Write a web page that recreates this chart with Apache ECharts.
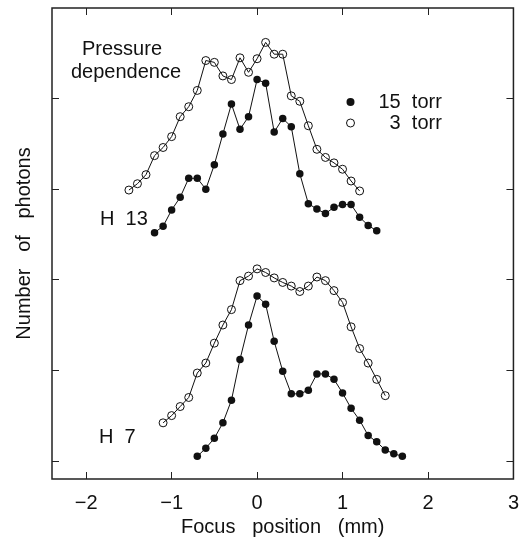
<!DOCTYPE html>
<html>
<head>
<meta charset="utf-8">
<script src="https://cdn.jsdelivr.net/npm/echarts@6/dist/echarts.min.js"></script>
<style>
  html, body { margin: 0; padding: 0; background: #fff; }
  #main { width: 522px; height: 546px; }
</style>
</head>
<body>
<div id="main"></div>
<script>
// focus position (mm)
var h13x3  = [-1.5,-1.4,-1.3,-1.2,-1.1,-1.0,-0.9,-0.8,-0.7,-0.6,-0.5,-0.4,-0.3,-0.2,-0.1,0.0,0.1,0.2,0.3,0.4,0.5,0.6,0.7,0.8,0.9,1.0,1.1,1.2];
var h13y3  = [2.99,3.06,3.16,3.37,3.46,3.58,3.80,3.91,4.09,4.42,4.40,4.25,4.21,4.45,4.29,4.44,4.62,4.49,4.49,4.03,3.97,3.70,3.44,3.35,3.29,3.22,3.09,2.98];
var h13x15 = [-1.2,-1.1,-1.0,-0.9,-0.8,-0.7,-0.6,-0.5,-0.4,-0.3,-0.2,-0.1,0.0,0.1,0.2,0.3,0.4,0.5,0.6,0.7,0.8,0.9,1.0,1.1,1.2,1.3,1.4];
var h13y15 = [2.52,2.59,2.77,2.91,3.12,3.12,3.00,3.27,3.61,3.94,3.66,3.80,4.21,4.17,3.63,3.78,3.69,3.17,2.84,2.78,2.73,2.80,2.83,2.83,2.69,2.60,2.54];
var h7x3   = [-1.1,-1.0,-0.9,-0.8,-0.7,-0.6,-0.5,-0.4,-0.3,-0.2,-0.1,0.0,0.1,0.2,0.3,0.4,0.5,0.6,0.7,0.8,0.9,1.0,1.1,1.2,1.3,1.4,1.5];
var h7y3   = [0.42,0.50,0.60,0.70,0.97,1.08,1.30,1.50,1.67,1.99,2.04,2.12,2.08,2.02,1.97,1.93,1.87,1.93,2.03,1.99,1.88,1.75,1.48,1.24,1.08,0.90,0.72];
var h7x15  = [-0.7,-0.6,-0.5,-0.4,-0.3,-0.2,-0.1,0.0,0.1,0.2,0.3,0.4,0.5,0.6,0.7,0.8,0.9,1.0,1.1,1.2,1.3,1.4,1.5,1.6,1.7];
var h7y15  = [0.05,0.14,0.25,0.42,0.67,1.12,1.50,1.82,1.73,1.32,0.99,0.74,0.74,0.78,0.96,0.96,0.90,0.75,0.58,0.45,0.28,0.21,0.12,0.08,0.05];

var xTicks = [-2,-1,0,1,2,3];
var yTicks = [0,1,2,3,4];

var FONT = '"Liberation Sans", Arial, sans-serif';
var INK = '#111';

function pairs(xs, ys){
    var out = [];
    for(var i=0;i<xs.length;i++){
        out.push([xs[i], ys[i]]);
    }
    return out;
}

function minus(v){
    return v < 0 ? '\u2212' + Math.abs(v) : String(v);
}

var filled = {color: INK, borderColor: INK, borderWidth: 0};
var hollow = {color: 'rgba(0,0,0,0)', borderColor: INK, borderWidth: 1};

function lineSeries(name, data, isFilled){
    return {
        name: name,
        type: 'line',
        data: data,
        symbol: 'circle',
        symbolSize: isFilled ? 7.5 : 8,
        showAllSymbol: true,
        silent: true,
        animation: false,
        lineStyle: {color: INK, width: 1},
        itemStyle: isFilled ? filled : hollow,
        z: isFilled ? 3 : 2
    };
}

// ticks only, frame comes from the grid border
function tickAxis(pos, min, max, ticks){
    return {
        type: 'value', position: pos, min: min, max: max,
        splitLine: {show: false},
        axisLine: {show: false, onZero: false},
        axisTick: {show: true, inside: true, length: 7, customValues: ticks, lineStyle: {color: '#222'}},
        axisLabel: {show: false}
    };
}

var chart = echarts.init(document.getElementById('main'), null, {renderer: 'canvas'});

var xBottom = tickAxis('bottom', -2.4, 3, xTicks);
xBottom.axisLabel = {
    show: true, customValues: xTicks, margin: 14,
    fontFamily: FONT, fontSize: 20, color: INK,
    formatter: minus
};
xBottom.name = 'Focus   position   (mm)';
xBottom.nameLocation = 'middle';
xBottom.nameGap = 38;
xBottom.nameTextStyle = {fontFamily: FONT, fontSize: 20, color: INK};

var yLeft = tickAxis('left', -0.2, 5, yTicks);
yLeft.name = 'Number   of   photons';
yLeft.nameLocation = 'middle';
yLeft.nameGap = 18;
yLeft.nameTextStyle = {fontFamily: FONT, fontSize: 20, color: INK};

var option = {
    backgroundColor: '#fff',
    animation: false,
    grid: {
        left: 52, right: 3, top: 8, bottom: 67,
        show: true, borderColor: '#222', borderWidth: 1.5
    },
    legend: {
        left: 341, top: 87,
        orient: 'vertical',
        itemWidth: 46, itemHeight: 8, itemGap: 1,
        symbolKeepAspect: true,
        selectedMode: false,
        textStyle: {fontFamily: FONT, fontSize: 20, color: INK, lineHeight: 20},
        formatter: function(name){
            return name === '3 torr' ? '  3  torr' : '15  torr';
        },
        data: [
            {name: '15 torr', icon: 'circle', itemStyle: filled},
            {name: '3 torr', icon: 'circle', itemStyle: hollow}
        ]
    },
    xAxis: [xBottom, tickAxis('top', -2.4, 3, xTicks)],
    yAxis: [yLeft, tickAxis('right', -0.2, 5, yTicks)],
    graphic: [
        {type: 'text', style: {text: 'Pressure', x: 82, y: 49, font: '20px ' + FONT, fill: INK, verticalAlign: 'middle'}},
        {type: 'text', style: {text: 'dependence', x: 71, y: 72.5, font: '20px ' + FONT, fill: INK, verticalAlign: 'middle'}},
        {type: 'text', style: {text: 'H  13', x: 100, y: 219, font: '20px ' + FONT, fill: INK, verticalAlign: 'middle'}},
        {type: 'text', style: {text: 'H  7', x: 99, y: 437, font: '20px ' + FONT, fill: INK, verticalAlign: 'middle'}}
    ],
    series: [
        lineSeries('3 torr', pairs(h13x3, h13y3), false),
        lineSeries('15 torr', pairs(h13x15, h13y15), true),
        lineSeries('3 torr', pairs(h7x3, h7y3), false),
        lineSeries('15 torr', pairs(h7x15, h7y15), true)
    ]
};

chart.setOption(option);
</script>
</body>
</html>
